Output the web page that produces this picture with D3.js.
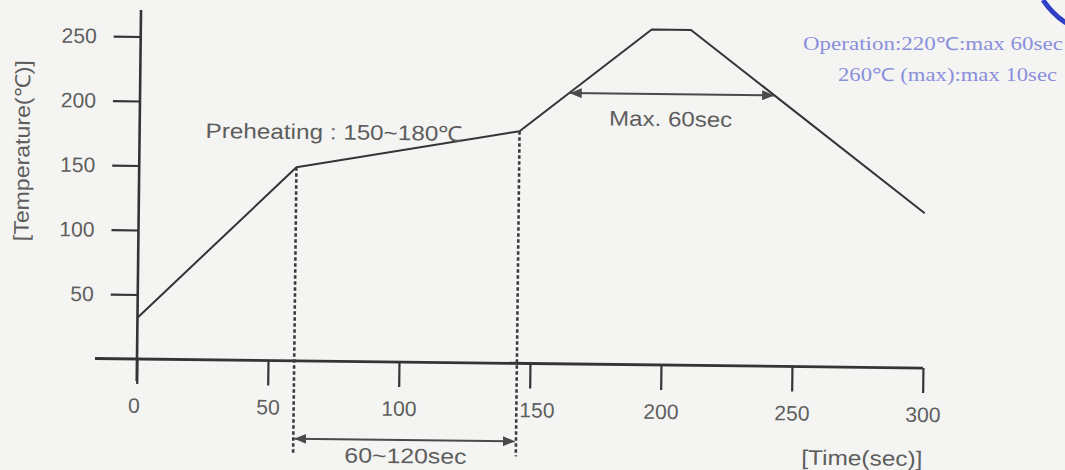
<!DOCTYPE html>
<html>
<head>
<meta charset="utf-8">
<script src="https://cdn.jsdelivr.net/npm/d3@7"></script>
<style>
  html, body { margin: 0; padding: 0; background: #f4f4f2; }
  svg { display: block; }
</style>
</head>
<body>
<svg id="chart" width="1065" height="470"></svg>
<script>
// ---- data ----
const timeSec = [0, 60, 145, 195, 210, 300];
const tempC   = [32, 150, 180, 260, 260, 120];
const xTicks  = [0, 50, 100, 150, 200, 250, 300];
const yTicks  = [50, 100, 150, 200, 250];
const preheatSpan = [60, 145];          // dashed markers / "60~120sec" arrow
const reflowSpan  = [164, 242];         // "Max. 60sec" arrow ends (sec)
const reflowLevel = 210;                // temperature of that arrow (°C)
const labels = {
  yTitle: "[Temperature(℃)]",
  xTitle: "[Time(sec)]",
  preheat: "Preheating : 150~180℃",
  reflow: "Max. 60sec",
  soak: "60~120sec",
  note1: "Operation:220℃:max 60sec",
  note2: "260℃ (max):max 10sec"
};

// ---- drawing ----
const sans = "'Liberation Sans', Arial, Helvetica, sans-serif";
const serif = "'Liberation Serif', 'Times New Roman', serif";
const svg = d3.select("#chart");
const x = d3.scaleLinear().domain([0, 300]).range([137, 923]);
const y = d3.scaleLinear().domain([0, 250]).range([359, 36.5]);

const ink = "#343434";
const txt = "#5e5e5e";

const defs = svg.append("defs");
["start", "end"].forEach(k => {
  defs.append("marker")
    .attr("id", "arr-" + k)
    .attr("viewBox", "0 0 12 10")
    .attr("refX", k === "end" ? 12 : 0).attr("refY", 5)
    .attr("markerWidth", 12).attr("markerHeight", 10)
    .attr("markerUnits", "userSpaceOnUse")
    .attr("orient", "auto")
    .append("path")
    .attr("d", k === "end" ? "M0,0 L12,5 L0,10 Z" : "M12,0 L0,5 L12,10 Z")
    .attr("fill", "#4a4a4a");
});

// scanned page is slightly rotated
const g = svg.append("g").attr("transform", `rotate(0.66, ${x(0)}, ${y(0)})`);

// Y axis
const yAx = g.append("g").attr("transform", `translate(${x(0)},0)`)
  .call(d3.axisLeft(y).tickValues(yTicks).tickSize(27).tickPadding(17).tickSizeOuter(0));
yAx.select(".domain").remove();
yAx.selectAll(".tick line").attr("stroke", ink).attr("stroke-width", 2.2);
yAx.selectAll(".tick text").attr("fill", txt)
  .style("font-size", "21px").style("font-family", sans);
g.append("line")
  .attr("x1", x(0)).attr("x2", x(0))
  .attr("y1", 10).attr("y2", y(0) + 22)
  .attr("stroke", ink).attr("stroke-width", 2.6);

// X axis
const xAx = g.append("g").attr("transform", `translate(0,${y(0)})`)
  .call(d3.axisBottom(x).tickValues(xTicks).tickSize(25).tickPadding(14).tickSizeOuter(0));
xAx.select(".domain").remove();
xAx.selectAll(".tick line").attr("stroke", ink).attr("stroke-width", 2.2);
xAx.selectAll(".tick text").attr("fill", txt)
  .style("font-size", "21px").style("font-family", sans)
  .attr("dx", d => d === 150 ? 7 : (d === 0 ? -3 : 0));
g.append("line")
  .attr("x1", x(0) - 42).attr("x2", x(300))
  .attr("y1", y(0)).attr("y2", y(0))
  .attr("stroke", ink).attr("stroke-width", 2.8);

// Profile curve
const pts = timeSec.map((t, i) => [t, tempC[i]]);
g.append("path")
  .datum(pts)
  .attr("d", d3.line().x(d => x(d[0])).y(d => y(d[1])))
  .attr("fill", "none").attr("stroke", ink).attr("stroke-width", 2)
  .attr("stroke-linejoin", "round");

// dashed verticals at the preheat span
preheatSpan.forEach(t => {
  const i = timeSec.indexOf(t);
  g.append("line")
    .attr("x1", x(t)).attr("x2", x(t))
    .attr("y1", y(tempC[i])).attr("y2", y(0) + 93)
    .attr("stroke", "#3a3a3a").attr("stroke-width", 2.6)
    .attr("stroke-dasharray", "3.5,2.5");
});

function label(sel, size, font) {
  return sel.style("font-size", size + "px").style("font-family", font || sans).attr("fill", txt);
}

// 60~120sec arrow
g.append("line")
  .attr("x1", x(preheatSpan[0]) + 1).attr("x2", x(preheatSpan[1]) - 1)
  .attr("y1", y(0) + 78).attr("y2", y(0) + 78)
  .attr("stroke", "#4a4a4a").attr("stroke-width", 2)
  .attr("marker-start", "url(#arr-start)").attr("marker-end", "url(#arr-end)");
label(g.append("text"), 21)
  .attr("x", (x(preheatSpan[0]) + x(preheatSpan[1])) / 2 + 1)
  .attr("y", y(0) + 101)
  .attr("text-anchor", "middle")
  .attr("textLength", 122).attr("lengthAdjust", "spacingAndGlyphs")
  .text(labels.soak);

// Max. 60sec arrow
g.append("line")
  .attr("x1", x(reflowSpan[0])).attr("x2", x(reflowSpan[1]))
  .attr("y1", y(reflowLevel)).attr("y2", y(reflowLevel))
  .attr("stroke", "#4a4a4a").attr("stroke-width", 2)
  .attr("marker-start", "url(#arr-start)").attr("marker-end", "url(#arr-end)");
label(g.append("text"), 21)
  .attr("x", (x(reflowSpan[0]) + x(reflowSpan[1])) / 2 - 1)
  .attr("y", y(reflowLevel) + 32)
  .attr("text-anchor", "middle")
  .attr("textLength", 123).attr("lengthAdjust", "spacingAndGlyphs")
  .text(labels.reflow);

// Preheating label
label(g.append("text"), 21)
  .attr("x", 203).attr("y", y(172))
  .attr("textLength", 257).attr("lengthAdjust", "spacingAndGlyphs")
  .text(labels.preheat);

// Axis titles
label(g.append("text"), 21)
  .attr("transform", "translate(27,152) rotate(-90)")
  .attr("text-anchor", "middle")
  .attr("textLength", 181).attr("lengthAdjust", "spacingAndGlyphs")
  .text(labels.yTitle);
label(g.append("text"), 21)
  .attr("x", 863).attr("y", 457)
  .attr("text-anchor", "middle")
  .attr("textLength", 121).attr("lengthAdjust", "spacingAndGlyphs")
  .text(labels.xTitle);

// Blue stamped note (top right)
const blue = "#8a8fdc";
label(svg.append("text"), 18, serif)
  .attr("fill", blue)
  .attr("x", 803).attr("y", 50)
  .attr("textLength", 260).attr("lengthAdjust", "spacingAndGlyphs")
  .text(labels.note1);
label(svg.append("text"), 18, serif)
  .attr("fill", blue)
  .attr("x", 838).attr("y", 81)
  .attr("textLength", 219).attr("lengthAdjust", "spacingAndGlyphs")
  .text(labels.note2);

// fragment of a round stamp at the corner
svg.append("path")
  .attr("d", "M1043,0 A80,80 0 0 0 1066,23")
  .attr("fill", "none").attr("stroke", "#2f3fc6").attr("stroke-width", 5);
</script>
</body>
</html>
